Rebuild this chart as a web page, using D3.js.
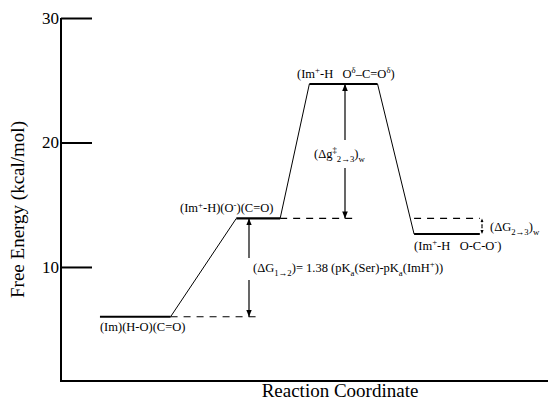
<!DOCTYPE html>
<html>
<head>
<meta charset="utf-8">
<script src="https://cdn.jsdelivr.net/npm/d3@7"></script>
<style>
  html, body { margin: 0; padding: 0; background: #fff; }
  svg { display: block; }
  svg text { white-space: pre; }
</style>
</head>
<body>
<svg id="chart" width="553" height="402"></svg>
<script>
// Free energy profile of the serine / histidine proton transfer step
const stateNames = ["state1", "state2", "ts", "state3"];
const stateEnergy = [6.0, 13.9, 24.7, 12.65];       // kcal/mol
const stateFrom = [0.8, 3.6, 5.1, 7.25];             // reaction coordinate
const stateTo = [2.25, 4.5, 6.5, 8.6];
const yTicks = [10, 20, 30];

const serif = "'Liberation Serif', Tinos, 'Nimbus Roman', 'Noto Serif', 'DejaVu Serif', Times, serif";
const svg = d3.select("#chart");
const x = d3.scaleLinear().domain([0, 10]).range([61, 548]);
const y = d3.scaleLinear().domain([0.84, 30]).range([381, 18]);

// axes: ticks point inward
const yAxis = d3.axisLeft(y).tickValues(yTicks).tickSize(-31).tickPadding(34)
  .tickFormat(d3.format("d"));
const gy = svg.append("g").attr("transform", `translate(${x(0)},0)`).call(yAxis)
  .attr("font-family", null).style("font-family", serif);
gy.select(".domain").remove();
gy.selectAll(".tick line").attr("stroke", "#000").attr("stroke-width", 2);
gy.selectAll(".tick text").attr("font-size", 17).style("font-family", serif)
  .attr("fill", "#000").attr("text-anchor", "end").attr("x", -2);

svg.append("path")
  .attr("d", `M${x(0)},${y(30)}V${y.range()[0]}H${x(10)}`)
  .attr("fill", "none").attr("stroke", "#000").attr("stroke-width", 2);

svg.append("text").attr("transform", `translate(24,${(y(30) + y.range()[0]) / 2 + 10}) rotate(-90)`)
  .attr("text-anchor", "middle").attr("font-size", 19).style("font-family", serif)
  .text("Free Energy (kcal/mol)");
svg.append("text").attr("x", 340).attr("y", 397).attr("text-anchor", "middle")
  .attr("font-size", 19).style("font-family", serif).text("Reaction Coordinate");

// energy levels
const levels = stateNames.map((n, i) => ({ n, e: stateEnergy[i], a: stateFrom[i], b: stateTo[i] }));
svg.selectAll("line.level").data(levels).join("line").attr("class", "level")
  .attr("x1", d => x(d.a)).attr("x2", d => x(d.b))
  .attr("y1", d => y(d.e)).attr("y2", d => y(d.e))
  .attr("stroke", "#000").attr("stroke-width", 2.2);

// connectors between consecutive levels
svg.selectAll("line.link").data(d3.pairs(levels)).join("line").attr("class", "link")
  .attr("x1", d => x(d[0].b)).attr("y1", d => y(d[0].e))
  .attr("x2", d => x(d[1].a)).attr("y2", d => y(d[1].e))
  .attr("stroke", "#000").attr("stroke-width", 1);

// dashed reference levels
const refs = [
  { e: stateEnergy[0], a: stateTo[0], b: 4.05 },
  { e: stateEnergy[1], a: stateTo[1], b: 6.1 },
  { e: stateEnergy[1], a: stateFrom[3], b: stateTo[3] }
];
svg.selectAll("line.ref").data(refs).join("line").attr("class", "ref")
  .attr("x1", d => x(d.a)).attr("x2", d => x(d.b))
  .attr("y1", d => y(d.e)).attr("y2", d => y(d.e))
  .attr("stroke", "#000").attr("stroke-width", 1.2).attr("stroke-dasharray", "7,6");

// arrow heads
const defs = svg.append("defs");
defs.append("marker").attr("id", "head").attr("viewBox", "0 0 10 10")
  .attr("refX", 10).attr("refY", 5).attr("markerWidth", 7).attr("markerHeight", 7)
  .attr("markerUnits", "userSpaceOnUse").attr("orient", "auto")
  .append("path").attr("d", "M0,1L10,5L0,9Z").attr("fill", "#000");
defs.append("marker").attr("id", "small").attr("viewBox", "0 0 10 10")
  .attr("refX", 10).attr("refY", 5).attr("markerWidth", 4).attr("markerHeight", 4)
  .attr("markerUnits", "userSpaceOnUse").attr("orient", "auto")
  .append("path").attr("d", "M0,1L10,5L0,9Z").attr("fill", "#000");

function vArrow(xv, yTop, yBot, gapTop, gapBot, marker, dash) {
  const segs = gapTop == null ? [[yTop + (yBot - yTop) / 2, yTop], [yTop + (yBot - yTop) / 2, yBot]]
    : [[gapTop, yTop], [gapBot, yBot]];
  segs.forEach(s => svg.append("line").attr("x1", xv).attr("x2", xv)
    .attr("y1", s[0]).attr("y2", s[1]).attr("stroke", "#000").attr("stroke-width", 1.2)
    .attr("stroke-dasharray", dash || null).attr("marker-end", `url(#${marker})`));
}
vArrow(249, y(stateEnergy[1]), y(stateEnergy[0]), 258, 280, "head");
vArrow(345, y(stateEnergy[2]), y(stateEnergy[1]), 140, 168, "head");
vArrow(482, y(stateEnergy[1]), y(stateEnergy[3]), null, null, "small", "2,2");

// rich text helper: segments may be superscript or subscript
function rich(xp, yp, segs, size, anchor) {
  const t = svg.append("text").attr("x", xp).attr("y", yp).attr("font-size", size)
    .style("font-family", serif).attr("text-anchor", anchor || "start");
  let shift = 0;
  segs.forEach(s => {
    const target = s.sup ? -0.38 * size : s.sub ? 0.3 * size : 0;
    t.append("tspan").attr("dy", target - shift)
      .attr("font-size", s.sup || s.sub ? size * 0.7 : size).text(s.t);
    shift = target;
  });
  return t;
}
const fs = 12.5;
rich(x(stateFrom[0]), y(stateEnergy[0]) + 14, [{ t: "(Im)(H-O)(C=O)" }], fs);
rich(180, y(stateEnergy[1]) - 6, [{ t: "(Im" }, { t: "+", sup: 1 }, { t: "-H)(O" }, { t: "-", sup: 1 }, { t: ")(C=O)" }], fs);
rich(297, y(stateEnergy[2]) - 6, [{ t: "(Im" }, { t: "+", sup: 1 }, { t: "-H   O" }, { t: "δ", sup: 1 },
  { t: "–C=O" }, { t: "δ", sup: 1 }, { t: ")" }], fs);
rich(x(stateFrom[3]), y(stateEnergy[3]) + 16, [{ t: "(Im" }, { t: "+", sup: 1 }, { t: "-H   O-C-O" }, { t: "-", sup: 1 }, { t: ")" }], fs);
rich(314, 158, [{ t: "(Δg" }, { t: "‡", sup: 1 }, { t: "2→3", sub: 1 }, { t: ")" }, { t: "w", sub: 1 }], fs);
rich(253, 272, [{ t: "(ΔG" }, { t: "1→2", sub: 1 }, { t: ")= 1.38 (pK" }, { t: "a", sub: 1 },
  { t: "(Ser)-pK" }, { t: "a", sub: 1 }, { t: "(ImH" }, { t: "+", sup: 1 }, { t: "))" }], fs);
rich(490, 231, [{ t: "(ΔG" }, { t: "2→3", sub: 1 }, { t: ")" }, { t: "w", sub: 1 }], fs);
</script>
</body>
</html>
